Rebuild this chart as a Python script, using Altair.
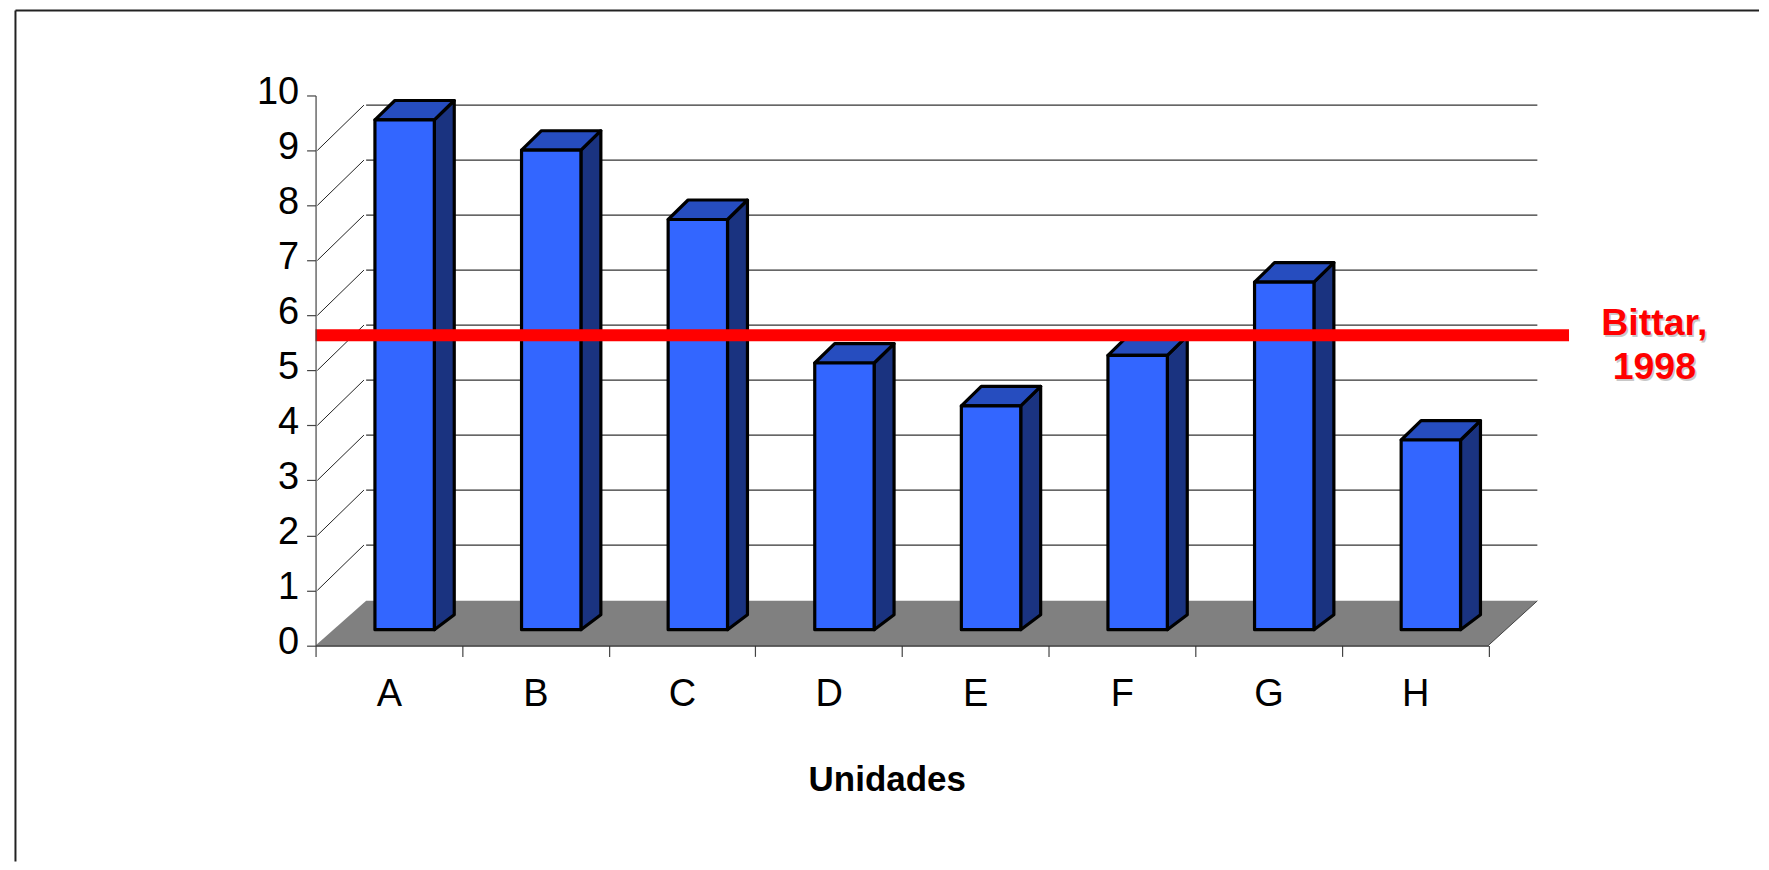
import altair as alt
import pandas as pd

categories = ["A", "B", "C", "D", "E", "F", "G", "H"]
values = [9.27, 8.72, 7.46, 4.85, 4.07, 4.99, 6.32, 3.45]
y_ticks = list(range(0, 11))
grid_levels = list(range(1, 10))
reference_value = 5.64
reference_label = ["Bittar,", "1998"]
x_title = "Unidades"

# 3D-look geometry in axis units
BASE = 0.285
LEFT = 0.405
BAR_W = 0.405
SIDE_DX = 0.136
TOP_DY = 0.354
BOT_DY = 0.272
WALL_DX = 0.345
WALL_DY = 0.825
FLOOR_DY = 0.81
WALL_R = 8.334
LINE_END = 8.55

XSC = alt.Scale(domain=[0, 8], nice=False, zero=False)
YSC = alt.Scale(domain=[0, 10], nice=False, zero=False)

letters = "[" + ",".join(f"'{c}'" for c in categories) + "]"
x_axis = alt.Axis(
    values=[i / 2 for i in range(17)],
    labelExpr=f"datum.value % 1 ? {letters}[floor(datum.value)] : ''",
    labelFont="Liberation Sans",
    labelFontSize=38,
    labelColor="#000000",
    labelPadding=19,
    labelOverlap=False,
    labelFlush=False,
    labelAngle=0,
    labelBaseline="top",
    tickSize=11,
    tickColor="#444444",
    tickWidth=1.2,
    tickOpacity={"condition": {"test": "datum.value % 1 != 0", "value": 0}, "value": 1},
    domainColor="#333333",
    domainWidth=1.5,
    grid=False,
    title=x_title,
    titleFont="Liberation Sans",
    titleFontWeight="bold",
    titleFontSize=35,
    titleColor="#000000",
    titleX=572,
    titleY=145,
    titleAlign="center",
    titleBaseline="alphabetic",
    zindex=1,
)
y_axis = alt.Axis(
    values=y_ticks,
    format="d",
    labelFont="Liberation Sans",
    labelFontSize=38,
    labelColor="#000000",
    labelPadding=8,
    labelOffset=-3,
    labelOverlap=False,
    labelFlush=False,
    tickSize=9,
    tickColor="#444444",
    tickWidth=1.2,
    domainColor="#444444",
    domainWidth=1.2,
    grid=False,
    title=None,
    zindex=1,
)


def X(f):
    return alt.X(f, type="quantitative", scale=XSC, axis=x_axis, stack=None)


def Y(f):
    return alt.Y(f, type="quantitative", scale=YSC, axis=y_axis, stack=None)


X2 = lambda f: alt.X2(f)
Y2 = lambda f: alt.Y2(f)

# Frame (top and left edges only)
frame = pd.DataFrame({"x": [-2.047, -2.047], "x2": [9.846, -2.047], "y": [11.544, 11.544], "y2": [11.544, -3.93]})
frame_l = alt.Chart(frame).mark_rule(color="#222222", strokeWidth=2).encode(
    x=X("x"), x2=X2("x2"), y=Y("y"), y2=Y2("y2"))

# Back wall grid lines and diagonals
grid_df = pd.DataFrame({"v": grid_levels})
grid_df["y"] = grid_df.v + WALL_DY
grid_df["x"] = WALL_DX
grid_df["x2"] = WALL_R
grid_l = alt.Chart(grid_df).mark_rule(color="#333333", strokeWidth=1.2).encode(
    x=X("x"), x2=X2("x2"), y=Y("y"))

diag = pd.DataFrame({"x": 0.012, "x2": 0.33, "y": grid_levels})
diag["y2"] = diag.y + WALL_DY
diag_l = alt.Chart(diag).mark_rule(color="#222222", strokeWidth=1).encode(
    x=X("x"), x2=X2("x2"), y=Y("y"), y2=Y2("y2"))

# Floor
floor = pd.DataFrame({"y": [0, FLOOR_DY], "x": [0, WALL_DX], "x2": [8, WALL_R]})
floor_l = alt.Chart(floor).mark_area(orient="horizontal", color="#808080").encode(
    y=Y("y"), x=X("x"), x2=X2("x2"))
edge = pd.DataFrame({"x": [8], "x2": [WALL_R], "y": [0], "y2": [FLOOR_DY]})
edge_l = alt.Chart(edge).mark_rule(color="#444444", strokeWidth=1).encode(
    x=X("x"), x2=X2("x2"), y=Y("y"), y2=Y2("y2"))

# Bars
front, side, top = [], [], []
for i, (c, v) in enumerate(zip(categories, values)):
    l = i + LEFT
    r = l + BAR_W
    t = BASE + v
    front.append({"cat": c, "x": l, "x2": r, "y": BASE, "y2": t})
    side.append({"cat": c, "x": r, "y": BASE, "y2": t})
    side.append({"cat": c, "x": r + SIDE_DX, "y": BASE + BOT_DY, "y2": t + TOP_DY})
    top.append({"cat": c, "y": t, "x": l, "x2": r})
    top.append({"cat": c, "y": t + TOP_DY, "x": l + SIDE_DX, "x2": r + SIDE_DX})

STROKE = dict(stroke="#000000", strokeWidth=3.2, strokeJoin="round")
side_l = alt.Chart(pd.DataFrame(side)).mark_area(color="#1A3380", **STROKE).encode(
    x=X("x"), y=Y("y"), y2=Y2("y2"), detail="cat:N")
top_l = alt.Chart(pd.DataFrame(top)).mark_area(orient="horizontal", color="#264DBF", **STROKE).encode(
    y=Y("y"), x=X("x"), x2=X2("x2"), detail="cat:N")
front_l = alt.Chart(pd.DataFrame(front)).mark_rect(color="#3366FF", **STROKE).encode(
    x=X("x"), x2=X2("x2"), y=Y("y"), y2=Y2("y2"))

# Reference line
ref = pd.DataFrame({"x": [0], "x2": [LINE_END], "y": [reference_value]})
ref_l = alt.Chart(ref).mark_rule(color="#FF0000", strokeWidth=12).encode(
    x=X("x"), x2=X2("x2"), y=Y("y"))

label_df = pd.DataFrame({"t": reference_label, "x": [9.132, 9.132], "y": [5.642, 4.837]})
txt = dict(font="Liberation Sans", fontWeight="bold", fontSize=37.5, align="center", baseline="alphabetic")
shadow_l = alt.Chart(label_df).mark_text(color="#C8C8C8", dx=1.5, dy=1.5, **txt).encode(
    x=X("x"), y=Y("y"), text="t:N")
label_l = alt.Chart(label_df).mark_text(color="#FF0000", **txt).encode(
    x=X("x"), y=Y("y"), text="t:N")

chart = alt.layer(
    frame_l, floor_l, edge_l, grid_l, diag_l, side_l, top_l, front_l, ref_l, shadow_l, label_l
).properties(
    width=1174.5,
    height=550.7,
    padding={"left": 6, "top": 0, "right": 0, "bottom": 0},
    background="#FFFFFF",
).configure_view(stroke=None)

chart.save("out.html", embed_options={"renderer": "svg", "actions": False})
